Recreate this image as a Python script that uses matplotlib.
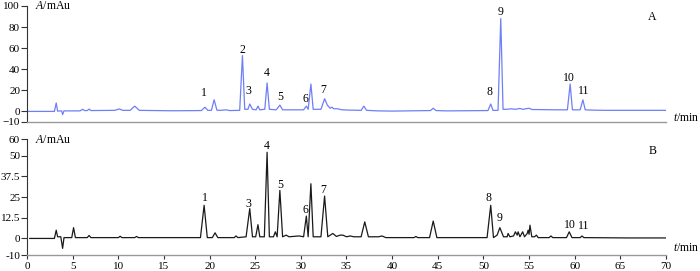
import numpy as np
import matplotlib.pyplot as plt

plt.rcParams['font.family'] = ['Liberation Serif', 'DejaVu Serif']
plt.rcParams['mathtext.fontset'] = 'custom'
plt.rcParams['mathtext.it'] = 'Liberation Serif:italic'
plt.rcParams['mathtext.rm'] = 'Liberation Serif'

# Chromatogram A (time in min, absorbance in mAu)
time_a = [0, 3.0, 3.2, 3.35, 3.8, 3.9, 4.05, 5.8, 6.1, 6.3, 6.6, 6.8, 7.0, 9.6, 10.1, 10.5,
          11.3, 11.8, 12.3, 14, 16, 19.1, 19.5, 19.8, 20.2, 20.5, 20.8, 21.2, 21.8, 22.2,
          23.3, 23.6, 23.85, 24.2, 24.4, 24.7, 25.1, 25.3, 25.5, 26.05, 26.3, 26.55, 27.3,
          27.7, 28.0, 30.3, 30.6, 30.8, 31.1, 31.35, 32.2, 32.6, 32.9, 33.2, 33.4, 33.6,
          34.0, 34.5, 35.5, 36.6, 36.9, 37.2, 38.5, 40, 44.2, 44.5, 44.8, 46, 50.5, 50.8,
          51.05, 51.6, 51.9, 52.15, 52.6, 53.0, 53.5, 54.0, 54.3, 55.0, 55.3, 58, 59.2,
          59.5, 59.75, 60.6, 60.9, 61.15, 62, 63.5, 70]
abs_a = [0, 0, 8, 0.3, 0.5, -3, 0.5, 0.5, 2, 0.8, 0.8, 2.2, 0.8, 1, 2.3, 1,
         1, 5, 1, 0.8, 0.6, 0.8, 4, 1, 1, 11, 1.2, 1, 1.5, 0.8,
         1, 53, 2, 2, 7, 2, 1.5, 5, 1.5, 2, 27, 2, 1.5,
         6, 1.5, 1.5, 5, 2, 26, 2, 2, 12, 6, 3, 4, 2.5,
         2.5, 1.5, 1.2, 1, 5, 1, 0.5, 0.3, 0.8, 3, 0.8, 0.5, 0.8, 7,
         1, 1, 88, 2, 2, 2.5, 2, 2.8, 2, 3, 1.8, 1.5, 1.5,
         26, 1.5, 1.5, 11, 1.5, 1.2, 1.0, 1.0]

# Chromatogram B
time_b = [0.3, 3.0, 3.2, 3.35, 3.7, 3.9, 4.05, 4.9, 5.1, 5.3, 6.6, 6.8, 7.0, 10.0, 10.2, 10.4,
          11.8, 12.0, 12.2, 19.0, 19.4, 19.75, 20.3, 20.6, 20.9, 22.7, 22.9, 23.1, 24.0,
          24.4, 24.7, 25.05, 25.3, 25.5, 26.0, 26.3, 26.55, 27.0, 27.2, 27.4, 27.7, 28.0,
          28.4, 28.7, 29.8, 30.3, 30.6, 30.8, 31.1, 31.35, 32.2, 32.6, 32.95, 33.5, 33.9,
          34.3, 34.6, 35.0, 35.4, 35.8, 36.6, 37.0, 37.4, 38.5, 38.9, 39.3, 42.4, 42.6,
          42.8, 44.1, 44.5, 44.9, 50.4, 50.8, 51.1, 51.5, 51.8, 52.2, 52.6, 52.7, 52.9,
          53.3, 53.5, 53.7, 53.8, 54.0, 54.3, 54.5, 54.8, 54.9, 55.0, 55.1, 55.3, 55.6,
          55.8, 56.0, 57.2, 57.4, 57.6, 59.1, 59.4, 59.7, 60.6, 60.8, 61.0, 66, 70]
abs_b = [0, 0, 5, 1, 1, -6, 0.5, 0.5, 6.5, 0.5, 0.5, 1.8, 0.5, 0.5, 1.3, 0.5,
         0.5, 1.2, 0.5, 0.5, 20, 0.5, 0.5, 3.4, 0.5, 0.5, 1.5, 0.5, 1,
         18, 1, 1, 8.3, 1, 1, 52, 1, 1, 4, 1, 29, 1,
         2, 1, 1.5, 1, 13.5, 1, 33, 1, 1, 25.6, 1, 3, 1.2,
         2, 2, 1, 1.5, 1, 1, 10, 1, 1, 1.5, 0.5, 0.5, 1.2,
         0.5, 0.5, 10.5, 0.5, 0.5, 20, 0.5, 2, 6.5, 1, 1, 3, 1,
         1.5, 4, 2, 4, 1, 4, 1, 3, 5, 2.5, 8, 1, 1,
         2, 0.5, 0.5, 1.5, 0.5, 0.5, 4, 0.5, 0.5, 1.5, 0.5, 0.3, 0.3]

# Peak labels
peak_labels_a = ['1', '2', '3', '4', '5', '6', '7', '8', '9', '10', '11']
label_t_a = [19.4, 23.6, 24.3, 26.3, 27.7, 30.5, 32.5, 50.7, 51.9, 59.4, 61.0]
label_y_a = [17, 58, 19, 36.5, 14, 11.5, 20.7, 18.4, 94, 32, 19.3]

peak_labels_b = ['1', '3', '4', '5', '6', '7', '8', '9', '10', '11']
label_t_b = [19.5, 24.3, 26.3, 27.7, 30.5, 32.5, 50.6, 51.8, 59.5, 61.0]
label_y_b = [24.2, 20.8, 56, 32.5, 17.3, 29, 24.2, 12.3, 8.3, 7.5]

yticks_a = [-10, 0, 20, 40, 60, 80, 100]
yticks_b = [-10, 0, 12.5, 25, 37.5, 50, 60]
ytick_labels_b = ['-10', '0', '12.5', '25', '37.5', '50', '60']
xticks = np.arange(0, 71, 5)

fig = plt.figure(figsize=(7, 2.71), dpi=100)
ax_a = fig.add_axes([0.0386, 0.550, 0.9128, 0.428])
ax_b = fig.add_axes([0.0386, 0.059, 0.9128, 0.428])

ax_a.plot(time_a, abs_a, color='#6f7ff5', lw=0.9)
ax_b.plot(time_b, abs_b, color='#1a1a1a', lw=0.9)

for ax in (ax_a, ax_b):
    ax.set_xlim(0, 70)
    ax.spines['top'].set_visible(False)
    ax.spines['right'].set_visible(False)
    ax.spines['left'].set_color('#333333')
    ax.spines['left'].set_linewidth(0.8)
    ax.spines['bottom'].set_color('#999999')
    ax.spines['bottom'].set_linewidth(1.0)
    ax.tick_params(axis='y', direction='out', length=4, width=0.8, pad=1,
                   labelsize=8, color='#333333')

ax_a.set_ylim(-10, 100)
ax_a.set_yticks(yticks_a)
ax_a.set_xticks([])

ax_b.set_ylim(-10, 60)
ax_b.set_yticks(yticks_b)
ax_b.set_yticklabels(ytick_labels_b)
ax_b.set_xticks(xticks)
ax_b.tick_params(axis='x', direction='out', length=3, width=0.8, pad=2,
                 labelsize=8, color='#333333')

for lab, t, y in zip(peak_labels_a, label_t_a, label_y_a):
    ax_a.text(t, y, lab, ha='center', va='center', fontsize=8.5)
for lab, t, y in zip(peak_labels_b, label_t_b, label_y_b):
    ax_b.text(t, y, lab, ha='center', va='center', fontsize=8.5)

ax_a.text(0.9, 100, r'$\mathit{A}$/mAu', ha='left', va='center', fontsize=8.5)
ax_b.text(0.9, 59.5, r'$\mathit{A}$/mAu', ha='left', va='center', fontsize=8.5)
ax_a.text(68.5, 90, 'A', ha='center', va='center', fontsize=8.5)
ax_b.text(68.5, 53, 'B', ha='center', va='center', fontsize=8.5)

ax_a.text(1.011, -6.7, r'$\mathit{t}$/min', transform=ax_a.get_yaxis_transform(),
          ha='left', va='center', fontsize=8.5, clip_on=False)
ax_b.text(1.011, -5.5, r'$\mathit{t}$/min', transform=ax_b.get_yaxis_transform(),
          ha='left', va='center', fontsize=8.5, clip_on=False)

fig.savefig('out.png', dpi=100)
